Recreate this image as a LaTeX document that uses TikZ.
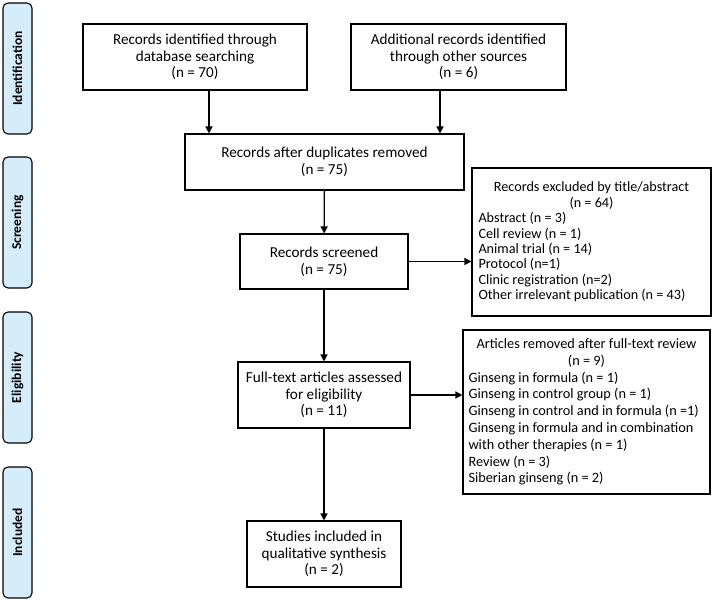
\documentclass[tikz,border=0pt]{standalone}
\usepackage{fontspec}
\setmainfont{Carlito}
\usetikzlibrary{arrows.meta}
\definecolor{tabblue}{HTML}{D5ECFA}
\tikzset{
  box/.style={draw, line width=1.1pt, fill=white, align=center, inner sep=2pt, font=\fontsize{15.2}{16.7}\selectfont},
  tab/.style={draw, line width=1.1pt, fill=tabblue, rounded corners=5pt, minimum width=131pt, minimum height=29pt, rotate=90, font=\fontsize{13.5}{15}\selectfont\bfseries},
  arr/.style={line width=1.3pt, -{Triangle[length=7pt,width=7pt]}}
}
\begin{document}
\begin{tikzpicture}[x=1pt,y=-1pt]
\useasboundingbox (0,0) rectangle (713,601);
% side tabs
\node[tab] (t1) at (17.5,68.5) {Identification};
\node[tab] (t2) at (17.5,222.5) {Screening};
\node[tab] (t3) at (17.5,377.5) {Eligibility};
\node[tab] (t4) at (17.5,532.5) {Included};
% main boxes
\node[box, minimum width=224pt, minimum height=66pt] (A) at (195,57) {Records identified through\\database searching\\(n = 70)};
\node[box, minimum width=215pt, minimum height=66pt] (B) at (458.5,57) {Additional records identified\\through other sources\\(n = 6)};
\node[box, minimum width=279pt, minimum height=56pt] (C) at (324.5,162) {Records after duplicates removed\\(n = 75)};
\node[box, minimum width=168pt, minimum height=55pt] (D) at (324,261.5) {Records screened\\(n = 75)};
\node[box, minimum width=172pt, minimum height=66pt] (E) at (324,395) {Full-text articles assessed\\for eligibility\\(n = 11)};
\node[box, minimum width=154pt, minimum height=66pt] (F) at (324,554) {Studies included in\\qualitative synthesis\\(n = 2)};
% exclusion boxes
\node[box, font=\fontsize{14.2}{15.4}\selectfont, minimum width=239pt, minimum height=148pt, text width=226pt, align=flush left] (X1) at (591.5,242) {%
\makebox[226pt][c]{Records excluded by title/abstract}\\
\makebox[226pt][c]{(n = 64)}\\
Abstract (n = 3)\\
Cell review (n = 1)\\
Animal trial (n = 14)\\
Protocol (n=1)\\
Clinic registration (n=2)\\
Other irrelevant publication (n = 43)};
\node[box, font=\fontsize{14.3}{16.8}\selectfont, minimum width=247pt, minimum height=164pt, text width=236pt, align=flush left] (X2) at (586.5,412) {%
\makebox[236pt][c]{Articles removed after full-text review}\\
\makebox[236pt][c]{(n = 9)}\\
Ginseng in formula (n = 1)\\
Ginseng in control group (n = 1)\\
Ginseng in control and in formula (n =1)\\
Ginseng in formula and in combination\\
with other therapies (n = 1)\\
Review (n = 3)\\
Siberian ginseng (n = 2)};
% arrows
\draw[arr] ([xshift=14pt]A.south) -- ([xshift=14pt]A.south |- C.north);
\draw[arr] ([xshift=-18.5pt]B.south) -- ([xshift=-18.5pt]B.south |- C.north);
\draw[arr] (C) -- (D);
\draw[arr] (D) -- (E);
\draw[arr] (E) -- (F);
\draw[arr] (D.east) -- (D.east -| X1.west);
\draw[arr] (E.east) -- (E.east -| X2.west);
\end{tikzpicture}
\end{document}
